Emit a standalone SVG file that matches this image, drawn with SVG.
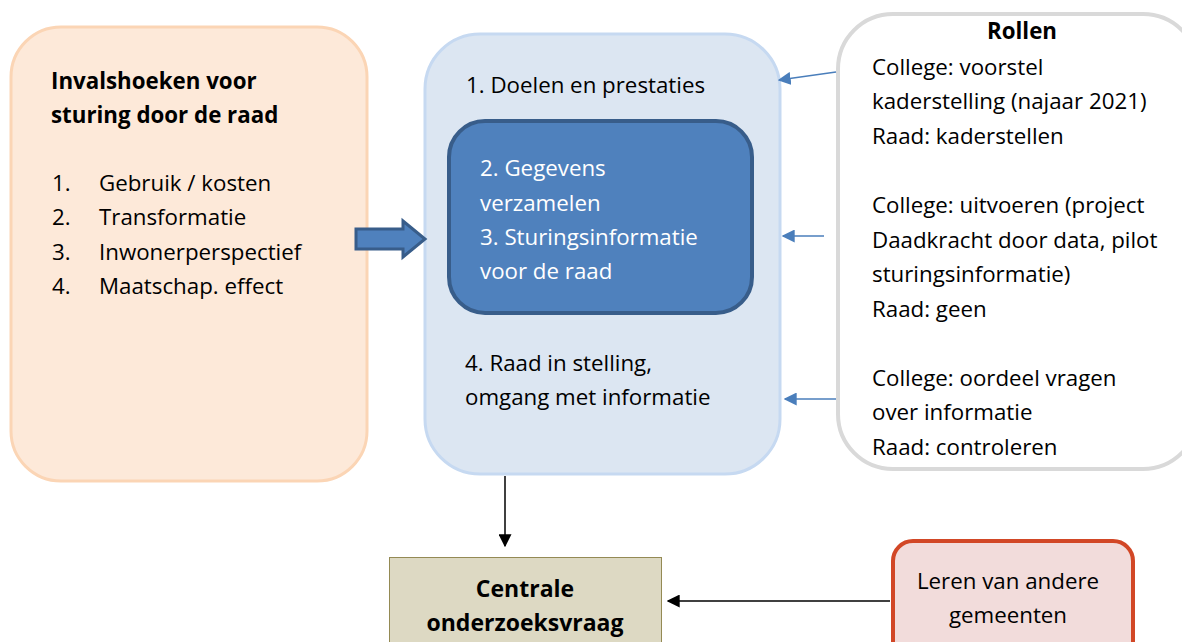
<svg xmlns="http://www.w3.org/2000/svg" width="1182" height="642" viewBox="0 0 1182 642">
<defs>
<style>
text{font-family:"Open Sans","Noto Sans","Liberation Sans",sans-serif;font-size:22.3px;fill:#000}
.b{font-weight:bold}
.w{fill:#fff}
.c{text-anchor:middle}
.big{font-size:23px}
.thin{stroke:#4a7ebb;stroke-width:1.5;fill:none}
.blk{stroke:#000;stroke-width:1.5;fill:none}
</style>
<marker id="ab" viewBox="0 0 10 10" refX="9" refY="5" markerWidth="13" markerHeight="13" markerUnits="userSpaceOnUse" orient="auto"><path d="M0,0 L10,5 L0,10 z" fill="#4a7ebb"/></marker>
<marker id="ak" viewBox="0 0 10 10" refX="9" refY="5" markerWidth="13" markerHeight="13" markerUnits="userSpaceOnUse" orient="auto"><path d="M0,0 L10,5 L0,10 z" fill="#000"/></marker>
</defs>
<rect width="1182" height="642" fill="#fff"/>

<g id="invalshoeken">
<rect x="11" y="27" width="356" height="454" rx="50" fill="#fde9d9" stroke="#fbd5b5" stroke-width="3"/>
<text class="b" x="51" y="89">Invalshoeken voor</text>
<text class="b" x="51" y="123">sturing door de raad</text>
<text x="52" y="191">1.</text><text x="99" y="191">Gebruik / kosten</text>
<text x="52" y="225">2.</text><text x="99" y="225">Transformatie</text>
<text x="52" y="260">3.</text><text x="99" y="260">Inwonerperspectief</text>
<text x="52" y="294">4.</text><text x="99" y="294">Maatschap. effect</text>
</g>

<g id="proces">
<rect x="425" y="34" width="355" height="440" rx="55" fill="#dce6f2" stroke="#c6d9f1" stroke-width="3"/>
<text x="466" y="93">1. Doelen en prestaties</text>
<text x="465" y="371">4. Raad in stelling,</text>
<text x="465" y="405">omgang met informatie</text>
</g>

<g id="sturingsinformatie">
<rect x="449" y="121" width="303" height="192" rx="36" fill="#4f81bd" stroke="#385d8a" stroke-width="4"/>
<text class="w" x="480" y="176">2. Gegevens</text>
<text class="w" x="480" y="211">verzamelen</text>
<text class="w" x="480" y="245">3. Sturingsinformatie</text>
<text class="w" x="480" y="279">voor de raad</text>
</g>

<g id="rollen">
<rect x="838" y="14" width="360" height="455" rx="55" fill="#fff" stroke="#d9d9d9" stroke-width="4"/>
<text class="b c" x="1022" y="39">Rollen</text>
<text x="872" y="75">College: voorstel</text>
<text x="872" y="109">kaderstelling (najaar 2021)</text>
<text x="872" y="144">Raad: kaderstellen</text>
<text x="872" y="213">College: uitvoeren (project</text>
<text x="872" y="248">Daadkracht door data, pilot</text>
<text x="872" y="282">sturingsinformatie)</text>
<text x="872" y="317">Raad: geen</text>
<text x="872" y="386">College: oordeel vragen</text>
<text x="872" y="420">over informatie</text>
<text x="872" y="455">Raad: controleren</text>
</g>

<g id="centrale">
<rect x="389.5" y="557.5" width="272" height="100" fill="#ddd9c3" stroke="#948a54" stroke-width="1"/>
<text class="b c big" x="525" y="597">Centrale</text>
<text class="b c big" x="525" y="631">onderzoeksvraag</text>
</g>

<g id="leren">
<rect x="893" y="541" width="240" height="120" rx="20" fill="#f2dcdb" stroke="#d24726" stroke-width="4"/>
<text class="c" x="1008" y="589">Leren van andere</text>
<text class="c" x="1008" y="623">gemeenten</text>
</g>

<g id="connectors">
<path d="M356,229 H403 V221 L425,239 L403,257 V249 H356 Z" fill="#4f81bd" stroke="#385d8a" stroke-width="3"/>
<line class="thin" x1="836" y1="72" x2="779" y2="80" marker-end="url(#ab)"/>
<line class="thin" x1="824" y1="236" x2="783" y2="236" marker-end="url(#ab)"/>
<line class="thin" x1="836" y1="399" x2="785" y2="399" marker-end="url(#ab)"/>
<line class="blk" x1="505" y1="476" x2="505" y2="546" marker-end="url(#ak)"/>
<line class="blk" x1="890" y1="601" x2="668" y2="601" marker-end="url(#ak)"/>
</g>
</svg>
